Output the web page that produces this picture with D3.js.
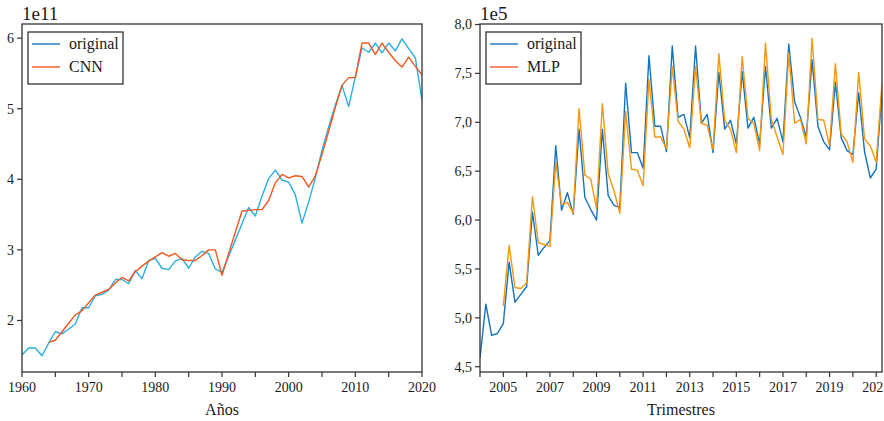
<!DOCTYPE html>
<html>
<head>
<meta charset="utf-8">
<script src="https://cdn.jsdelivr.net/npm/d3@7"></script>
<style>
body{margin:0;background:#fff;}
</style>
</head>
<body>
<div id="plot"></div>
<script>
// left panel: yearly series (1e11)
var yearsLeft = d3.range(1960, 2021);
var origLeft = [1.51,1.61,1.61,1.50,1.68,1.84,1.81,1.88,1.95,2.18,
  2.18,2.35,2.37,2.43,2.58,2.58,2.52,2.71,2.59,2.85,
  2.88,2.74,2.72,2.84,2.88,2.74,2.90,2.98,2.95,2.73,
  2.68,2.91,3.14,3.37,3.60,3.48,3.76,4.01,4.13,3.99,
  3.96,3.78,3.38,3.68,4.02,4.41,4.74,5.05,5.33,5.03,
  5.45,5.86,5.80,5.93,5.79,5.93,5.82,5.99,5.85,5.72,5.12];
var cnnYears = d3.range(1964, 2021);
var cnnLeft = [1.69,1.72,1.84,1.96,2.08,2.14,2.25,2.36,2.40,2.44,
  2.53,2.61,2.56,2.69,2.77,2.84,2.90,2.96,2.91,2.95,
  2.86,2.85,2.85,2.92,3.00,3.00,2.64,2.95,3.25,3.55,
  3.56,3.57,3.57,3.70,3.95,4.07,4.02,4.05,4.04,3.89,
  4.05,4.35,4.68,5.02,5.33,5.44,5.44,5.93,5.93,5.77,
  5.93,5.80,5.68,5.59,5.73,5.60,5.48];
var yTicksLeft = [2,3,4,5,6];
var xTicksLeft = d3.range(1960, 2021, 5);

// right panel: quarterly series (1e5), 2004Q1 .. 2021Q2
var origRight = [4.59,5.14,4.82,4.84,4.94,5.57,5.16,5.24,5.32,6.08,
  5.64,5.72,5.79,6.76,6.10,6.28,6.06,6.93,6.23,6.11,
  6.00,6.93,6.25,6.15,6.13,7.40,6.69,6.69,6.53,7.68,
  6.96,6.96,6.70,7.78,7.05,7.08,6.84,7.78,6.99,7.08,
  6.69,7.51,6.93,7.02,6.78,7.52,6.94,7.05,6.78,7.57,
  6.94,7.04,6.80,7.80,7.21,7.05,6.85,7.64,6.96,6.80,
  6.72,7.41,6.84,6.71,6.67,7.30,6.70,6.43,6.52,7.31];
// MLP starts at 2005Q1
var mlpStart = 4;
var mlpRight = [5.12,5.74,5.31,5.30,5.36,6.24,5.77,5.75,5.73,
  6.59,6.16,6.18,6.07,7.14,6.46,6.42,6.12,7.19,6.47,
  6.30,6.07,7.11,6.52,6.51,6.35,7.44,6.85,6.85,6.73,
  7.57,7.01,6.93,6.74,7.57,6.99,6.97,6.72,7.70,7.02,
  6.93,6.69,7.67,7.04,6.99,6.71,7.81,7.03,6.85,6.67,
  7.71,6.99,7.03,6.78,7.86,7.03,7.02,6.76,7.60,6.88,
  6.80,6.59,7.51,6.83,6.76,6.59,7.40];
var yTicksRight = [4.5,5.0,5.5,6.0,6.5,7.0,7.5,8.0];
var xTicksRight = d3.range(2004, 2022);

var svg = d3.select('#plot')
  .append('svg')
  .attr('width', 884)
  .attr('height', 421)
  .attr('font-family', "'Liberation Serif', 'DejaVu Serif', serif")
  .attr('fill', '#1a1a1a');

function panel(opt){
  var g = svg.append('g');
  var x = d3.scaleLinear().domain(opt.xDomain).range([opt.l, opt.r]);
  var y = d3.scaleLinear().domain(opt.yDomain).range([opt.b, opt.t]);

  // ticks
  opt.xTicks.forEach(function(t){
    g.append('line')
      .attr('x1', x(t)).attr('x2', x(t))
      .attr('y1', opt.b).attr('y2', opt.b + 5)
      .attr('stroke', '#333').attr('stroke-width', 1.2);
    if (opt.xLabel(t)) {
      g.append('text')
        .attr('x', x(t)).attr('y', 392)
        .attr('text-anchor', 'middle')
        .attr('font-size', 14)
        .text(opt.xLabel(t));
    }
  });
  opt.yTicks.forEach(function(t){
    g.append('line')
      .attr('x1', opt.l - 5).attr('x2', opt.l)
      .attr('y1', y(t)).attr('y2', y(t))
      .attr('stroke', '#333').attr('stroke-width', 1.2);
    g.append('text')
      .attr('x', opt.l - 8).attr('y', y(t) + 5)
      .attr('text-anchor', 'end')
      .attr('font-size', 14)
      .text(opt.yFormat(t));
  });

  var clip = 'clip' + opt.id;
  svg.append('clipPath').attr('id', clip)
    .append('rect')
    .attr('x', opt.l).attr('y', opt.t)
    .attr('width', opt.r - opt.l).attr('height', opt.b - opt.t);

  opt.series.forEach(function(s){
    var line = d3.line()
      .x(function(d){ return x(d[0]); })
      .y(function(d){ return y(d[1]); });
    g.append('path')
      .datum(s.data)
      .attr('clip-path', 'url(#' + clip + ')')
      .attr('fill', 'none')
      .attr('stroke', s.color)
      .attr('stroke-width', 1.4)
      .attr('stroke-linejoin', 'round')
      .attr('d', line);
  });

  // frame
  g.append('rect')
    .attr('x', opt.l).attr('y', opt.t)
    .attr('width', opt.r - opt.l).attr('height', opt.b - opt.t)
    .attr('fill', 'none').attr('stroke', '#333').attr('stroke-width', 1.3);

  // offset text
  g.append('text')
    .attr('x', opt.l).attr('y', 20)
    .attr('font-size', 19)
    .text(opt.offset);

  // axis title
  g.append('text')
    .attr('x', (opt.l + opt.r) / 2).attr('y', 415)
    .attr('text-anchor', 'middle')
    .attr('font-size', 16)
    .text(opt.title);

  // legend
  var lg = g.append('g').attr('transform', 'translate(' + (opt.l + 6) + ',32)');
  lg.append('rect')
    .attr('width', 95).attr('height', 52)
    .attr('fill', '#fff').attr('stroke', '#222').attr('stroke-width', 1.2);
  opt.series.forEach(function(s, i){
    var yy = 12 + i * 23;
    lg.append('line')
      .attr('x1', 4).attr('x2', 32)
      .attr('y1', yy).attr('y2', yy)
      .attr('stroke', s.legendColor).attr('stroke-width', 1.4);
    lg.append('text')
      .attr('x', 41).attr('y', yy + 5)
      .attr('font-size', 16)
      .text(s.name);
  });
}

panel({
  id: 'L', l: 22, r: 422, t: 24, b: 372,
  xDomain: [1960, 2020], yDomain: [1.27, 6.2],
  xTicks: xTicksLeft, yTicks: yTicksLeft,
  xLabel: function(t){ return t % 10 === 0 ? String(t) : null; },
  yFormat: function(t){ return String(t); },
  offset: '1e11', title: 'Años',
  series: [
    {name: 'original', color: '#2aaee4', legendColor: '#1a76c4',
     data: yearsLeft.map(function(yr, i){ return [yr, origLeft[i]]; })},
    {name: 'CNN', color: '#f0581e', legendColor: '#f0581e',
     data: cnnYears.map(function(yr, i){ return [yr, cnnLeft[i]]; })}
  ]
});

panel({
  id: 'R', l: 480, r: 882, t: 24, b: 372,
  xDomain: [2004, 2021.25], yDomain: [4.446, 8.005],
  xTicks: xTicksRight, yTicks: yTicksRight,
  xLabel: function(t){ return t % 2 === 1 ? String(t) : null; },
  yFormat: function(t){ return d3.format('.1f')(t).replace('.', ','); },
  offset: '1e5', title: 'Trimestres',
  series: [
    {name: 'original', color: '#1473bf', legendColor: '#1a6fc0',
     data: origRight.map(function(v, i){ return [2004 + i / 4, v]; })},
    {name: 'MLP', color: '#f7960f', legendColor: '#f0582a',
     data: mlpRight.map(function(v, i){ return [2004 + (i + mlpStart) / 4, v]; })}
  ]
});
</script>
</body>
</html>
